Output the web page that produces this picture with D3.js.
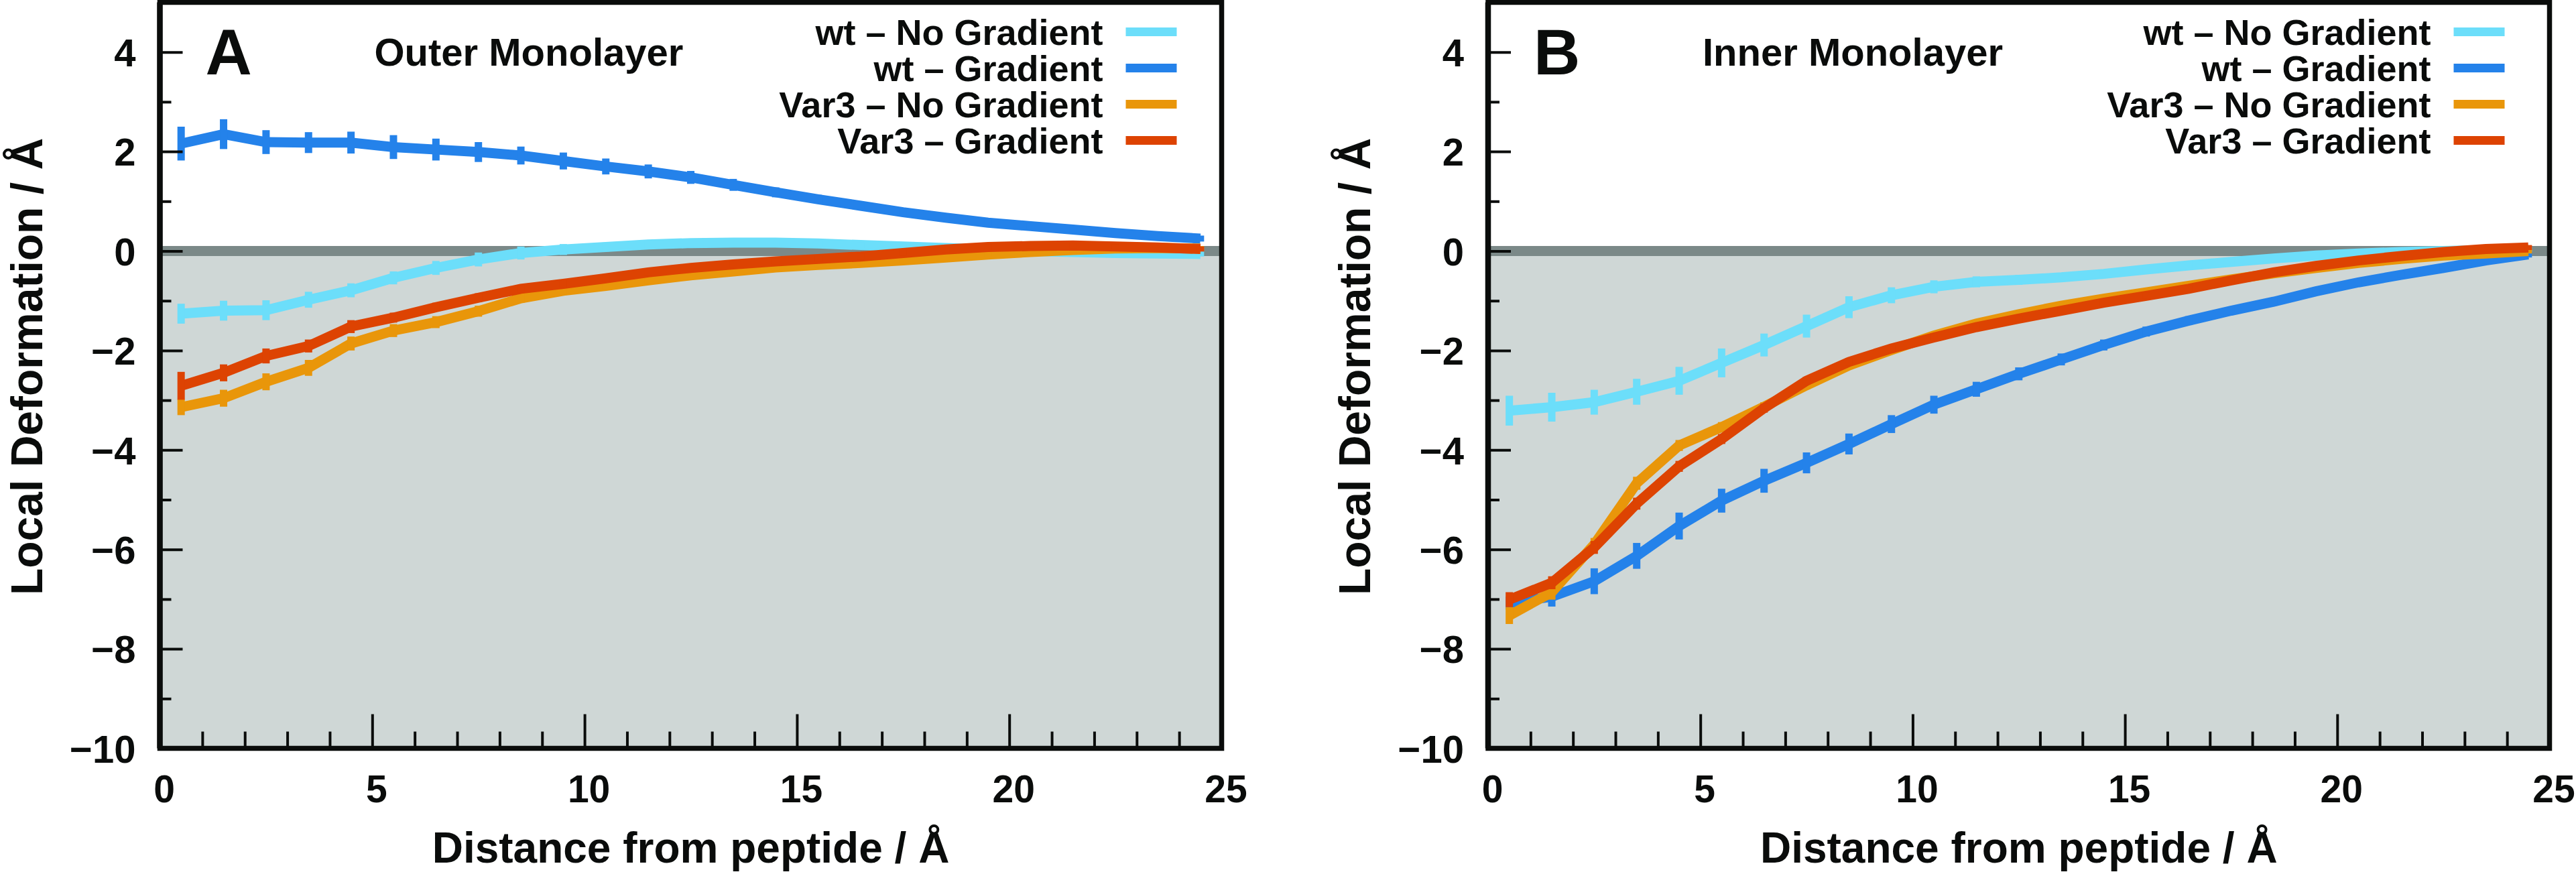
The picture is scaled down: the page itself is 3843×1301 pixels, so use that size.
<!DOCTYPE html>
<html><head><meta charset="utf-8">
<script src="https://cdn.jsdelivr.net/npm/d3@7"></script>
<style>
body{margin:0;background:#fff}
svg{display:block;background:#fff}
text{font-family:"Liberation Sans",Arial,Helvetica,sans-serif;font-weight:bold;fill:#0a0c0b}
</style>
</head><body>
<svg id="chart" width="3843" height="1301"></svg>
<script>
// ---------------- data ----------------
const distance = [0.5,1.5,2.5,3.5,4.5,5.5,6.5,7.5,8.5,9.5,10.5,11.5,12.5,13.5,14.5,15.5,16.5,17.5,18.5,19.5,20.5,21.5,22.5,23.5,24.5];
const seriesNames = ["wt \u2013 No Gradient","wt \u2013 Gradient","Var3 \u2013 No Gradient","Var3 \u2013 Gradient"];
const seriesColors = ["#6cdefa","#2482ea","#e9960a","#dd4302"];
const xTicks = [0,5,10,15,20,25];
const xMinorTicks = [1,2,3,4,6,7,8,9,11,12,13,14,16,17,18,19,21,22,23,24];
const yTicks = [-10,-8,-6,-4,-2,0,2,4];
const yMinorTicks = [-9,-7,-5,-3,-1,1,3];

// Outer monolayer (A)
const outerWtNoGrad   = [-1.26,-1.20,-1.19,-0.98,-0.79,-0.54,-0.34,-0.17,-0.04,0.03,0.08,0.13,0.16,0.17,0.17,0.15,0.12,0.09,0.06,0.03,0.00,-0.02,-0.04,-0.05,-0.06];
const outerWtNoGradErr= [0.17,0.17,0.17,0.13,0.11,0.10,0.11,0.11,0.10,0.08,0.06,0.06,0.05,0.05,0.04,0.04,0.03,0.03,0.03,0.03,0.02,0.02,0.02,0.02,0.02];
const outerWtGrad     = [2.16,2.35,2.19,2.18,2.18,2.09,2.04,1.99,1.92,1.81,1.70,1.60,1.48,1.33,1.18,1.04,0.91,0.78,0.67,0.57,0.50,0.43,0.36,0.30,0.25];
const outerWtGradErr  = [0.31,0.27,0.21,0.18,0.19,0.21,0.19,0.17,0.15,0.14,0.13,0.11,0.10,0.09,0.07,0.06,0.05,0.05,0.04,0.04,0.03,0.03,0.03,0.03,0.03];
const outerVarNoGrad  = [-3.14,-2.96,-2.63,-2.35,-1.86,-1.60,-1.43,-1.21,-0.95,-0.80,-0.70,-0.59,-0.49,-0.41,-0.33,-0.28,-0.24,-0.19,-0.13,-0.07,-0.02,0.02,0.05,0.06,0.05];
const outerVarNoGradErr=[0.13,0.14,0.14,0.13,0.11,0.10,0.09,0.08,0.06,0.05,0.05,0.04,0.04,0.04,0.03,0.03,0.03,0.03,0.02,0.02,0.02,0.02,0.02,0.02,0.02];
const outerVarGrad    = [-2.71,-2.45,-2.11,-1.91,-1.52,-1.34,-1.13,-0.94,-0.76,-0.66,-0.55,-0.43,-0.34,-0.27,-0.21,-0.16,-0.11,-0.04,0.03,0.08,0.10,0.11,0.09,0.07,0.04];
const outerVarGradErr = [0.25,0.14,0.12,0.10,0.10,0.07,0.06,0.06,0.05,0.05,0.04,0.04,0.04,0.04,0.03,0.03,0.03,0.03,0.03,0.03,0.02,0.02,0.02,0.02,0.02];

// Inner monolayer (B)
const innerWtNoGrad   = [-3.21,-3.14,-3.04,-2.83,-2.61,-2.25,-1.89,-1.51,-1.13,-0.89,-0.72,-0.62,-0.58,-0.53,-0.46,-0.37,-0.29,-0.22,-0.15,-0.09,-0.05,-0.02,0.00,0.02,0.03];
const innerWtNoGradErr= [0.27,0.26,0.22,0.23,0.25,0.26,0.20,0.20,0.19,0.13,0.10,0.08,0.07,0.06,0.05,0.05,0.04,0.04,0.03,0.03,0.03,0.02,0.02,0.02,0.02];
const innerWtGrad     = [-7.08,-6.95,-6.64,-6.13,-5.53,-5.02,-4.62,-4.26,-3.88,-3.48,-3.09,-2.78,-2.47,-2.18,-1.89,-1.62,-1.40,-1.20,-1.02,-0.81,-0.63,-0.48,-0.34,-0.19,-0.07];
const innerWtGradErr  = [0.10,0.17,0.23,0.23,0.24,0.21,0.21,0.18,0.18,0.15,0.15,0.12,0.10,0.09,0.08,0.07,0.06,0.05,0.05,0.04,0.04,0.03,0.03,0.03,0.03];
const innerVarNoGrad  = [-7.33,-6.86,-5.90,-4.67,-3.91,-3.54,-3.13,-2.70,-2.30,-1.99,-1.70,-1.46,-1.27,-1.10,-0.96,-0.83,-0.70,-0.57,-0.45,-0.34,-0.24,-0.16,-0.09,-0.05,0.00];
const innerVarNoGradErr=[0.14,0.12,0.10,0.10,0.08,0.07,0.06,0.05,0.05,0.04,0.04,0.04,0.03,0.03,0.03,0.03,0.03,0.02,0.02,0.02,0.02,0.02,0.02,0.02,0.02];
const innerVarGrad    = [-7.01,-6.67,-5.96,-5.08,-4.33,-3.78,-3.16,-2.61,-2.23,-1.96,-1.74,-1.53,-1.36,-1.20,-1.04,-0.90,-0.76,-0.59,-0.43,-0.30,-0.19,-0.10,-0.02,0.04,0.07];
const innerVarGradErr = [0.12,0.10,0.10,0.09,0.08,0.07,0.06,0.05,0.05,0.04,0.04,0.04,0.03,0.03,0.03,0.03,0.03,0.02,0.02,0.02,0.02,0.02,0.02,0.02,0.02];

// ---------------- layout ----------------
const panels = [
  {left:238.5, right:1822.5, letter:"A", title:"Outer Monolayer",
   values:[outerWtNoGrad,outerWtGrad,outerVarNoGrad,outerVarGrad],
   errors:[outerWtNoGradErr,outerWtGradErr,outerVarNoGradErr,outerVarGradErr]},
  {left:2220, right:3803.5, letter:"B", title:"Inner Monolayer",
   values:[innerWtNoGrad,innerWtGrad,innerVarNoGrad,innerVarGrad],
   errors:[innerWtNoGradErr,innerWtGradErr,innerVarNoGradErr,innerVarGradErr]}
];
const TOP = 3.5, BOTTOM = 1116.5;
const INK = "#0a0c0b";
const svg = d3.select("#chart");

function fmt(v){ return v < 0 ? "\u2212" + Math.abs(v) : String(v); }

panels.forEach(cfg => {
  const g = svg.append("g");
  const x = d3.scaleLinear().domain([0,25]).range([cfg.left, cfg.right]);
  const y = d3.scaleLinear().domain([-10,5]).range([BOTTOM, TOP]);

  // shaded region below zero
  g.append("rect")
    .attr("x", x(0)).attr("y", y(0))
    .attr("width", x(25)-x(0)).attr("height", y(-10)-y(0))
    .attr("fill", "#cfd7d6");
  g.append("line")
    .attr("x1", x(0)).attr("x2", x(25)).attr("y1", y(0)).attr("y2", y(0))
    .attr("stroke", "#7b8988").attr("stroke-width", 15);

  // series
  const line = d3.line().x(p => x(p[0])).y(p => y(p[1]));
  cfg.values.forEach((vals, i) => {
    const err = cfg.errors[i];
    const pts = distance.map((d, j) => [d, vals[j], err[j]]);
    g.append("path").datum(pts)
      .attr("d", line)
      .attr("fill", "none")
      .attr("stroke", seriesColors[i])
      .attr("stroke-width", 15)
      .attr("stroke-linejoin", "miter");
    g.append("g").selectAll("line").data(pts).join("line")
      .attr("x1", p => x(p[0])).attr("x2", p => x(p[0]))
      .attr("y1", p => y(p[1]-p[2]-0.03)).attr("y2", p => y(p[1]+p[2]+0.03))
      .attr("stroke", seriesColors[i]).attr("stroke-width", 11);
  });

  // x axis ticks
  const xMinor = g.append("g").attr("transform", `translate(0,${BOTTOM})`)
    .call(d3.axisBottom(x).tickValues(xMinorTicks).tickSize(-25).tickFormat(""));
  const xMajor = g.append("g").attr("transform", `translate(0,${BOTTOM})`)
    .call(d3.axisBottom(x).tickValues(xTicks).tickSize(-51).tickFormat(d => fmt(d)));
  xMajor.selectAll("text").attr("y", 80.5).attr("dy", 0).attr("dx", 6)
    .attr("font-size", 57).attr("fill", INK);

  // y axis ticks
  const yMinor = g.append("g").attr("transform", `translate(${x(0)},0)`)
    .call(d3.axisLeft(y).tickValues(yMinorTicks).tickSize(-17).tickFormat(""));
  const yMajor = g.append("g").attr("transform", `translate(${x(0)},0)`)
    .call(d3.axisLeft(y).tickValues(yTicks).tickSize(-34).tickPadding(36).tickFormat(d => fmt(d)));
  yMajor.selectAll("text").attr("dy", "0.36em").attr("font-size", 58).attr("fill", INK);

  [xMinor, xMajor, yMinor, yMajor].forEach(a => {
    a.attr("font-family", null).attr("font-size", null);
    a.select(".domain").remove();
    a.selectAll(".tick line").attr("stroke", INK).attr("stroke-width", 4);
  });

  // frame
  g.append("rect")
    .attr("x", x(0)).attr("y", y(5))
    .attr("width", x(25)-x(0)).attr("height", y(-10)-y(5))
    .attr("fill", "none").attr("stroke", INK).attr("stroke-width", 7.5);
  g.append("line")
    .attr("x1", x(0)).attr("x2", x(0)).attr("y1", y(5)).attr("y2", y(-10))
    .attr("stroke", INK).attr("stroke-width", 8.5);

  // panel letter & title
  g.append("text").attr("x", x(0)+68).attr("y", 111)
    .attr("font-size", 96).text(cfg.letter);
  g.append("text").attr("x", x(0)+320).attr("y", 98)
    .attr("font-size", 58).text(cfg.title);

  // legend
  seriesNames.forEach((name, i) => {
    g.append("text").attr("x", x(25)-177).attr("y", 67+54*i)
      .attr("text-anchor", "end").attr("font-size", 54).text(name);
    g.append("rect").attr("x", x(25)-143).attr("y", 41+54*i)
      .attr("width", 76).attr("height", 13).attr("fill", seriesColors[i]);
  });

  // axis titles
  g.append("text")
    .attr("transform", `translate(${x(0)-176},547) rotate(-90)`)
    .attr("text-anchor", "middle").attr("font-size", 66)
    .text("Local Deformation / \u00c5");
  g.append("text")
    .attr("x", (x(0)+x(25))/2).attr("y", 1287)
    .attr("text-anchor", "middle").attr("font-size", 64)
    .text("Distance from peptide / \u00c5");
});
</script>
</body></html>
